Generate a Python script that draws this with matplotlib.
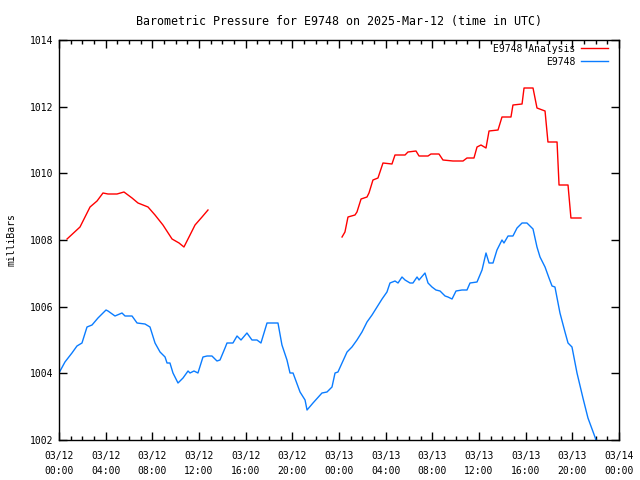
import matplotlib
matplotlib.use("Agg")
import matplotlib.pyplot as plt
import numpy as np

# hours since 03/12 00:00 UTC
analysis_hours = [0.69, 1.80, 2.66, 3.26, 3.77, 4.20, 4.97, 5.57, 6.26, 6.77, 7.63, 8.23, 8.91, 9.69,
                  10.29, 10.71, 11.23, 11.66, 12.26, 12.77,
                  None,
                  24.26, 24.51, 24.77, 25.37, 25.54, 25.89, 26.40, 26.57, 26.91, 27.34, 27.77, 28.54,
                  28.80, 29.66, 29.91, 30.60, 30.86, 31.63, 31.88, 32.57, 32.91, 33.77, 34.63, 34.97,
                  35.57, 35.83, 36.17, 36.60, 36.86, 37.63, 37.97, 38.74, 38.91, 39.69, 39.86, 40.63,
                  40.97, 41.66, 41.91, 42.69, 42.86, 43.63, 43.88, 44.74]
analysis_mb = [1008.03, 1008.39, 1008.99, 1009.17, 1009.41, 1009.38, 1009.38, 1009.44, 1009.26, 1009.11,
               1008.99, 1008.75, 1008.45, 1008.03, 1007.91, 1007.79, 1008.15, 1008.45, 1008.69, 1008.90,
               None,
               1008.09, 1008.24, 1008.69, 1008.75, 1008.84, 1009.23, 1009.29, 1009.41, 1009.80, 1009.86,
               1010.31, 1010.28, 1010.55, 1010.55, 1010.64, 1010.67, 1010.52, 1010.52, 1010.58, 1010.58,
               1010.40, 1010.37, 1010.37, 1010.46, 1010.46, 1010.79, 1010.85, 1010.76, 1011.27, 1011.30,
               1011.69, 1011.69, 1012.05, 1012.08, 1012.56, 1012.56, 1011.96, 1011.87, 1010.94, 1010.94,
               1009.65, 1009.65, 1008.66, 1008.66]

station_hours = [0.00, 0.51, 1.11, 1.54, 1.97, 2.40, 2.83, 3.34, 4.03, 4.20, 4.80, 5.40, 5.66, 6.26,
                 6.69, 7.37, 7.80, 8.23, 8.66, 9.09, 9.26, 9.51, 9.77, 10.20, 10.63, 11.06, 11.23,
                 11.57, 11.91, 12.34, 12.69, 13.11, 13.54, 13.80, 14.23, 14.40, 14.91, 15.26, 15.60,
                 16.11, 16.54, 16.97, 17.31, 17.83, 18.77, 19.11, 19.54, 19.80, 20.06, 20.66, 21.09,
                 21.26, 21.77, 22.54, 22.97, 23.40, 23.66, 23.91, 24.26, 24.69, 25.11, 25.54, 25.97,
                 26.40, 26.83, 27.26, 27.69, 28.11, 28.37, 28.80, 29.06, 29.40, 29.66, 30.09, 30.34,
                 30.69, 30.86, 31.37, 31.63, 31.97, 32.31, 32.66, 33.09, 33.34, 33.69, 34.03, 34.54,
                 34.97, 35.23, 35.83, 36.26, 36.60, 36.86, 37.20, 37.54, 37.97, 38.14, 38.49, 38.91,
                 39.26, 39.69, 40.11, 40.63, 40.97, 41.23, 41.66, 42.00, 42.26, 42.51, 42.94, 43.37,
                 43.63, 43.97, 44.40, 44.91, 45.34, 45.94, 46.20]
station_mb = [1004.01, 1004.34, 1004.61, 1004.82, 1004.91, 1005.39, 1005.45, 1005.66, 1005.90, 1005.87,
              1005.72, 1005.81, 1005.72, 1005.72, 1005.51, 1005.48, 1005.39, 1004.91, 1004.64, 1004.49,
              1004.31, 1004.31, 1004.01, 1003.71, 1003.86, 1004.07, 1004.01, 1004.07, 1004.01, 1004.49,
              1004.52, 1004.52, 1004.37, 1004.40, 1004.76, 1004.91, 1004.91, 1005.12, 1005.00, 1005.21,
              1005.00, 1005.00, 1004.91, 1005.51, 1005.51, 1004.85, 1004.40, 1004.01, 1004.01, 1003.44,
              1003.20, 1002.90, 1003.11, 1003.41, 1003.44, 1003.59, 1004.01, 1004.04, 1004.31, 1004.64,
              1004.79, 1005.00, 1005.24, 1005.54, 1005.75, 1005.99, 1006.23, 1006.44, 1006.71, 1006.77,
              1006.71, 1006.89, 1006.80, 1006.71, 1006.71, 1006.89, 1006.80, 1007.01, 1006.71, 1006.59,
              1006.50, 1006.47, 1006.32, 1006.29, 1006.23, 1006.47, 1006.50, 1006.50, 1006.71, 1006.74,
              1007.10, 1007.61, 1007.31, 1007.31, 1007.70, 1008.00, 1007.91, 1008.12, 1008.12, 1008.36,
              1008.51, 1008.51, 1008.33, 1007.79, 1007.49, 1007.19, 1006.86, 1006.62, 1006.59, 1005.81,
              1005.24, 1004.91, 1004.79, 1004.01, 1003.26, 1002.66, 1002.09, 1001.82]

tick_hours = list(range(0, 49, 4))
tick_labels = ["03/12\n00:00", "03/12\n04:00", "03/12\n08:00", "03/12\n12:00", "03/12\n16:00",
               "03/12\n20:00", "03/13\n00:00", "03/13\n04:00", "03/13\n08:00", "03/13\n12:00",
               "03/13\n16:00", "03/13\n20:00", "03/14\n00:00"]

plt.rcParams['font.family'] = ['DejaVu Sans Mono']
plt.rcParams['font.size'] = 7

fig = plt.figure(figsize=(6.4, 4.8), dpi=100)
ax = fig.add_axes([59 / 640, 40 / 480, 560 / 640, 400 / 480])

ah = np.array([np.nan if v is None else v for v in analysis_hours], dtype=float)
am = np.array([np.nan if v is None else v for v in analysis_mb], dtype=float)
ax.plot(ah, am, color='#ff0000', lw=1.0, label='E9748 Analysis')
ax.plot(station_hours, station_mb, color='#0a7cff', lw=1.0, label='E9748')

ax.set_xlim(0, 48)
ax.set_ylim(1002, 1014)
ax.set_xticks(tick_hours)
ax.set_xticklabels(tick_labels, linespacing=1.6)
ax.set_xticks(range(0, 49), minor=True)
ax.set_yticks(range(1002, 1015, 2))
ax.tick_params(direction='in', top=True, right=True, length=6, width=1, pad=4)
ax.tick_params(axis='x', which='major', pad=8)
ax.tick_params(axis='x', which='minor', direction='in', top=True, length=3, width=1)
for s in ax.spines.values():
    s.set_linewidth(1.0)

ax.set_title('Barometric Pressure for E9748 on 2025-Mar-12 (time in UTC)', pad=11)
ax.set_ylabel('milliBars', labelpad=10)

ax.legend(loc='upper right', bbox_to_anchor=(1 - 5 / 560, 1 + 2 / 400), frameon=False,
          markerfirst=False, handlelength=2.8, borderaxespad=0.2, labelspacing=0.3,
          handletextpad=0.6)

fig.savefig('out.png', dpi=100)
